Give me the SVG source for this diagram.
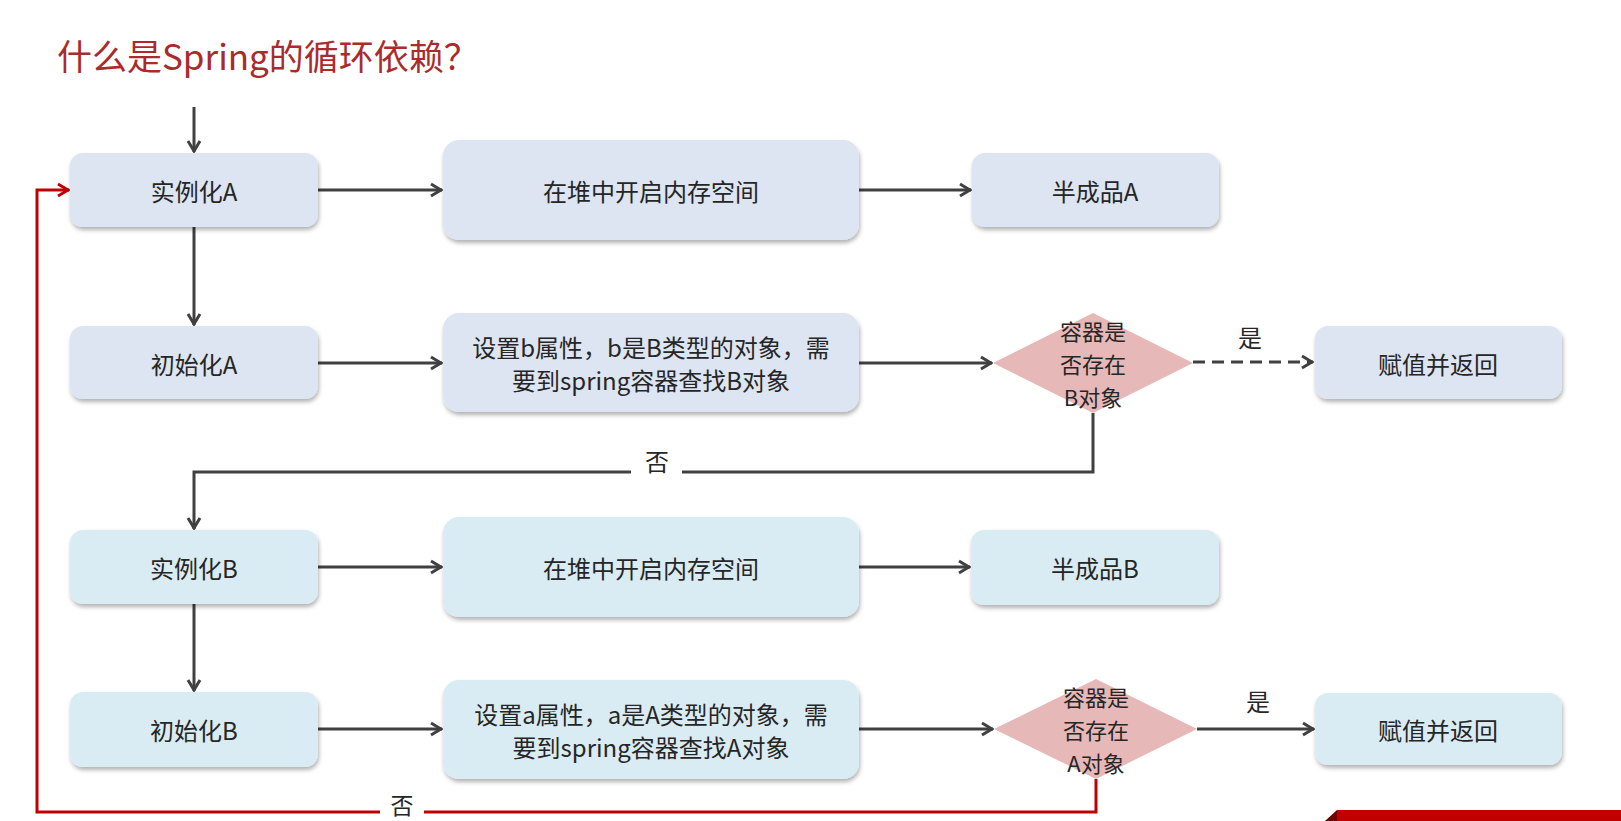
<svg xmlns="http://www.w3.org/2000/svg" width="1621" height="821" viewBox="0 0 1621 821">
<defs>
<style>
text{font-family:"Noto Sans CJK SC","Liberation Sans",sans-serif;fill:#262626;}
.t{font-size:24px;text-anchor:middle;dominant-baseline:central;}
.d{font-size:22px;text-anchor:middle;dominant-baseline:central;}
.boxA{fill:#dce5f1;filter:url(#sh);}
.boxB{fill:#daecf3;filter:url(#sh);}
.dia{fill:#e6b8b8;}
.ln{fill:none;stroke:#404040;stroke-width:3;marker-end:url(#ar);}
.red{fill:none;stroke:#c00000;stroke-width:3;}
</style>
<filter id="sh" x="-10%" y="-20%" width="120%" height="150%">
<feDropShadow dx="1" dy="3" stdDeviation="2" flood-color="#000" flood-opacity="0.3"/>
</filter>
<marker id="ar" viewBox="0 0 14 16" refX="13" refY="8" markerWidth="14" markerHeight="16" markerUnits="userSpaceOnUse" orient="auto">
<path d="M2,2 L12,8 L2,14" fill="none" stroke="#404040" stroke-width="3"/>
</marker>
<marker id="arr" viewBox="0 0 14 16" refX="13" refY="8" markerWidth="14" markerHeight="16" markerUnits="userSpaceOnUse" orient="auto">
<path d="M2,2 L12,8 L2,14" fill="none" stroke="#c00000" stroke-width="3"/>
</marker>
</defs>
<rect width="1621" height="821" fill="#ffffff"/>
<text x="57" y="70" style="font-size:35px;fill:#ab2a2c;">什么是Spring的循环依赖？</text>

<g id="connectors">
<path class="ln" d="M194,107 L194,152"/>
<path class="ln" d="M318,190 L442,190"/>
<path class="ln" d="M859,190 L971,190"/>
<path class="ln" d="M194,227 L194,325"/>
<path class="ln" d="M318,363 L442,363"/>
<path class="ln" d="M859,363 L992,363"/>
<path class="ln" d="M1193,362 L1313,362" stroke-dasharray="12,7"/>
<path class="ln" d="M1093,413 L1093,472 L194,472 L194,529"/>
<path class="ln" d="M318,567 L442,567"/>
<path class="ln" d="M859,567 L970,567"/>
<path class="ln" d="M194,604 L194,691"/>
<path class="ln" d="M318,729 L442,729"/>
<path class="ln" d="M859,729 L993,729"/>
<path class="ln" d="M1197,729 L1314,729"/>
<path class="red" d="M1096,779 L1096,812 L37,812 L37,190 L69,190" marker-end="url(#arr)"/>
<rect x="631" y="448" width="51" height="30" fill="#ffffff"/>
<text class="t" x="657" y="460">否</text>
<rect x="380" y="796" width="44" height="25" fill="#ffffff"/>
<text class="t" x="402" y="804" style="font-size:23px">否</text>
<text class="t" x="1250" y="336">是</text>
<text class="t" x="1258" y="700">是</text>
</g>

<g id="n1"><rect class="boxA" x="70" y="153" width="248" height="74" rx="13"/><text class="t" x="194" y="190">实例化A</text></g>
<g id="n2"><rect class="boxA" x="443" y="140" width="416" height="100" rx="16"/><text class="t" x="651" y="190">在堆中开启内存空间</text></g>
<g id="n3"><rect class="boxA" x="972" y="153" width="247" height="74" rx="13"/><text class="t" x="1095" y="190">半成品A</text></g>

<g id="n4"><rect class="boxA" x="70" y="326" width="248" height="73" rx="13"/><text class="t" x="194" y="363">初始化A</text></g>
<g id="n5"><rect class="boxA" x="443" y="313" width="416" height="99" rx="16"/><text class="t" x="651" y="346">设置b属性，b是B类型的对象，需</text><text class="t" x="651" y="379">要到spring容器查找B对象</text></g>
<g id="n6"><polygon class="dia" points="1093,313 1193,363 1093,413 993,363"/><text class="d" x="1093" y="330">容器是</text><text class="d" x="1093" y="363">否存在</text><text class="d" x="1093" y="396">B对象</text></g>
<g id="n7"><rect class="boxA" x="1315" y="326" width="247" height="73" rx="13"/><text class="t" x="1438" y="363">赋值并返回</text></g>

<g id="n8"><rect class="boxB" x="70" y="530" width="248" height="74" rx="13"/><text class="t" x="194" y="567">实例化B</text></g>
<g id="n9"><rect class="boxB" x="443" y="517" width="416" height="100" rx="16"/><text class="t" x="651" y="567">在堆中开启内存空间</text></g>
<g id="n10"><rect class="boxB" x="971" y="530" width="248" height="75" rx="13"/><text class="t" x="1095" y="567">半成品B</text></g>

<g id="n11"><rect class="boxB" x="70" y="692" width="248" height="75" rx="13"/><text class="t" x="194" y="729">初始化B</text></g>
<g id="n12"><rect class="boxB" x="443" y="680" width="416" height="99" rx="16"/><text class="t" x="651" y="713">设置a属性，a是A类型的对象，需</text><text class="t" x="651" y="746">要到spring容器查找A对象</text></g>
<g id="n13"><polygon class="dia" points="1096,679 1197,729 1096,779 994,729"/><text class="d" x="1096" y="696">容器是</text><text class="d" x="1096" y="729">否存在</text><text class="d" x="1096" y="762">A对象</text></g>
<g id="n14"><rect class="boxB" x="1315" y="693" width="247" height="72" rx="13"/><text class="t" x="1438" y="729">赋值并返回</text></g>

<polygon points="1325,821 1337,810 1337,821" fill="#6e0000"/>
<rect x="1337" y="810" width="284" height="11" fill="#c00000"/>
</svg>
